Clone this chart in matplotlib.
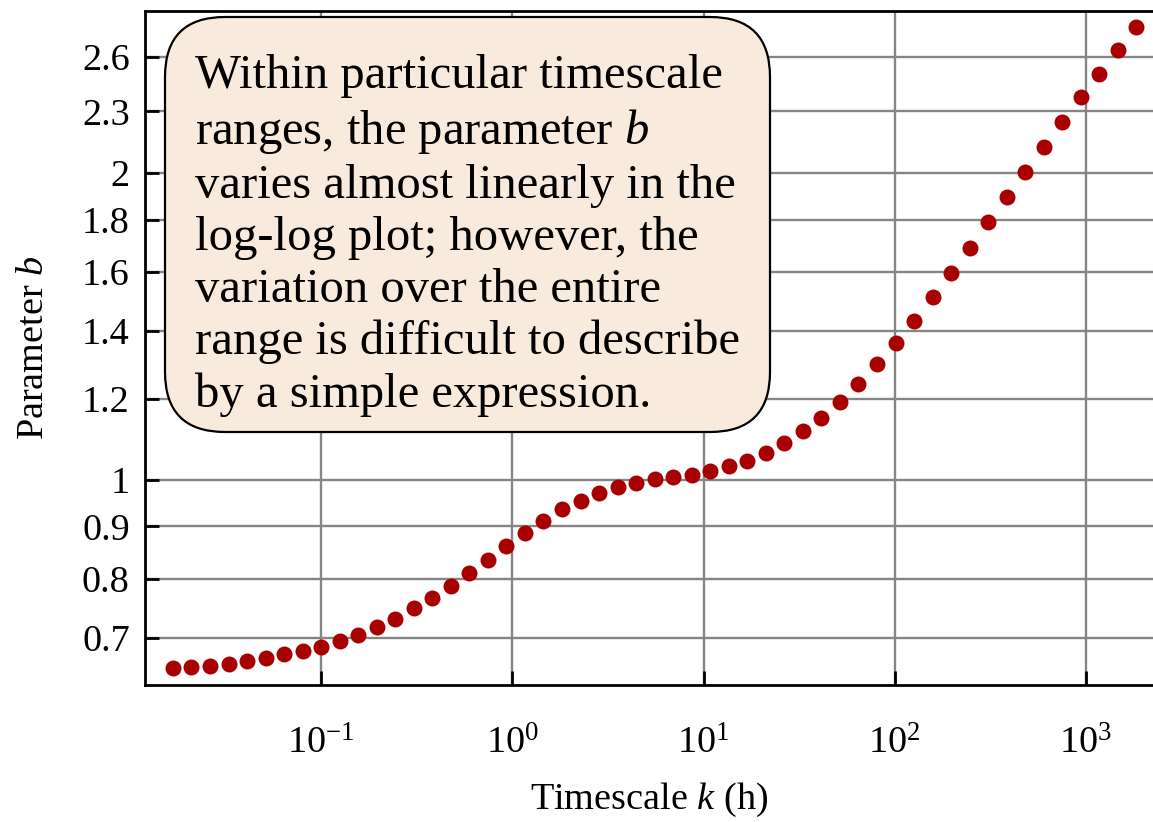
import matplotlib
matplotlib.use("Agg")
import matplotlib.pyplot as plt
from matplotlib.patches import FancyBboxPatch
from matplotlib.ticker import FixedLocator, FixedFormatter, NullLocator

plt.rcParams['font.family'] = ['Liberation Serif', 'DejaVu Serif']
plt.rcParams['mathtext.fontset'] = 'custom'
plt.rcParams['mathtext.rm'] = 'Liberation Serif'
plt.rcParams['mathtext.it'] = 'Liberation Serif:italic'

# timescale k (h)
timescale = [0.01678, 0.02097, 0.02621, 0.03277, 0.04096, 0.0512, 0.064, 0.08,
             0.1, 0.125, 0.1563, 0.1953, 0.2441, 0.3052, 0.3815, 0.4768, 0.596,
             0.7451, 0.9313, 1.164, 1.455, 1.819, 2.274, 2.842, 3.553, 4.441,
             5.551, 6.939, 8.674, 10.84, 13.55, 16.94, 21.18, 26.47, 33.09, 41.36,
             51.7, 64.62, 80.78, 101.0, 126.2, 157.8, 197.2, 246.5, 308.2, 385.2,
             481.5, 601.9, 752.3, 940.4, 1175.5, 1469.4, 1836.7]
param_b = [0.654, 0.655, 0.657, 0.660, 0.664, 0.668, 0.674, 0.679, 0.686, 0.695,
           0.705, 0.717, 0.730, 0.748, 0.765, 0.787, 0.810, 0.835, 0.861, 0.887,
           0.912, 0.936, 0.954, 0.970, 0.984, 0.993, 1.001, 1.007, 1.012, 1.021,
           1.031, 1.044, 1.063, 1.087, 1.116, 1.150, 1.193, 1.242, 1.299, 1.362,
           1.433, 1.512, 1.597, 1.689, 1.790, 1.896, 2.006, 2.124, 2.246, 2.374,
           2.505, 2.641, 2.782]

y_ticks = [0.7, 0.8, 0.9, 1, 1.2, 1.4, 1.6, 1.8, 2, 2.3, 2.6]
y_tick_labels = ['0.7', '0.8', '0.9', '1', '1.2', '1.4', '1.6', '1.8', '2', '2.3', '2.6']
x_ticks = [0.1, 1, 10, 100, 1000]

note = ("Within particular timescale\n"
        "ranges, the parameter $b$\n"
        "varies almost linearly in the\n"
        "log-log plot; however, the\n"
        "variation over the entire\n"
        "range is difficult to describe\n"
        "by a simple expression.")

fig = plt.figure(figsize=(11.53, 8.22), dpi=100)
ax = fig.add_axes([0.1258, 0.1667, 0.8742, 0.8199])
ax.set_xscale('log')
ax.set_yscale('log')

ax.plot(timescale, param_b, 'o', color='#a80000', ms=11.5, mec='none', zorder=3)

ax.set_xlim(0.01199, 2244)
ax.set_ylim(0.629, 2.885)

ax.xaxis.set_major_locator(FixedLocator(x_ticks))
ax.xaxis.set_minor_locator(NullLocator())
ax.yaxis.set_major_locator(FixedLocator(y_ticks))
ax.yaxis.set_major_formatter(FixedFormatter(y_tick_labels))
ax.yaxis.set_minor_locator(NullLocator())

ax.grid(True, which='major', color='#858585', lw=1.7, zorder=0)
ax.tick_params(direction='in', length=10, width=2, labelsize=27.5, colors='black')
ax.tick_params(axis='x', pad=30)
ax.tick_params(axis='y', pad=11)
for s in ['left', 'bottom', 'top']:
    ax.spines[s].set_linewidth(2)
ax.spines['right'].set_visible(False)

ax.set_xlabel('Timescale $k$ (h)', fontsize=27.5, labelpad=14)
ax.set_ylabel('Parameter $b$', fontsize=27.5, labelpad=22)

box = FancyBboxPatch((1.65, 3.90), 6.05, 4.15,
                     boxstyle='round,pad=0,rounding_size=0.6',
                     transform=fig.dpi_scale_trans, facecolor='#f8ebde',
                     edgecolor='black', lw=1.6, zorder=5)
fig.patches.append(box)
fig.text(1.95, 7.68, note, transform=fig.dpi_scale_trans, ha='left', va='top',
         fontsize=35, linespacing=1.235, zorder=6)

fig.savefig('out.png', dpi=100)
